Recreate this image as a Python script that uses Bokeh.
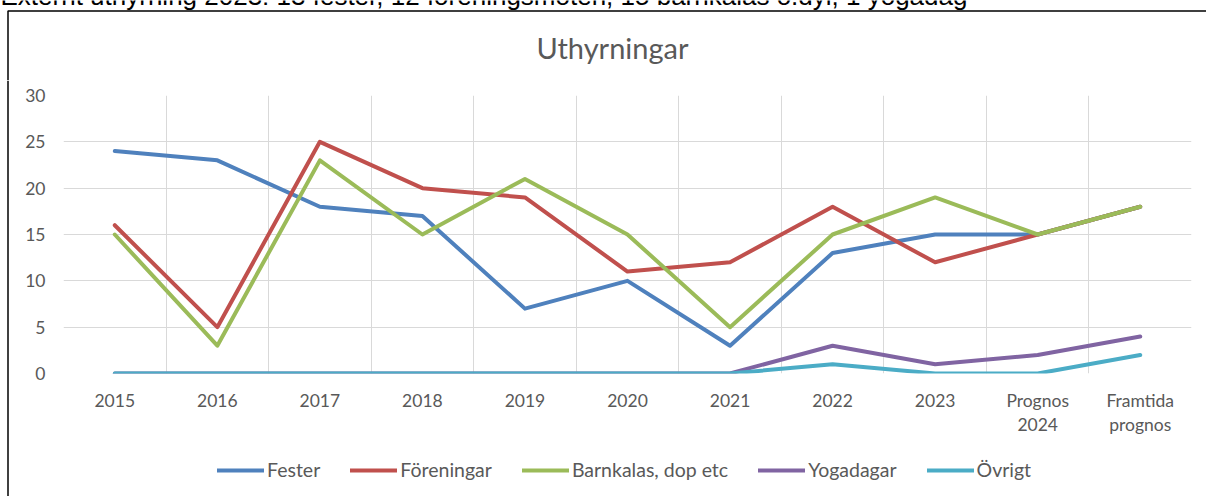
from bokeh.plotting import figure
from bokeh.models import Legend, LegendItem, Label, BoxAnnotation, Span, FixedTicker, Range1d
from bokeh.layouts import column, row
from bokeh.embed import file_html
from bokeh.resources import INLINE

categories = ["2015", "2016", "2017", "2018", "2019", "2020", "2021", "2022", "2023",
              "Prognos\n2024", "Framtida\nprognos"]
fester = [24, 23, 18, 17, 7, 10, 3, 13, 15, 15, 18]
foreningar = [16, 5, 25, 20, 19, 11, 12, 18, 12, 15, 18]
barnkalas = [15, 3, 23, 15, 21, 15, 5, 15, 19, 15, 18]
yogadagar = [0, 0, 0, 0, 0, 0, 0, 3, 1, 2, 4]
ovrigt = [0, 0, 0, 0, 0, 0, 0, 1, 0, 0, 2]
series_names = ["Fester", "Föreningar", "Barnkalas, dop etc", "Yogadagar", "Övrigt"]
y_ticks = [0, 5, 10, 15, 20, 25, 30]
title_text = "Uthyrningar"
note_text = "Externt uthyrning 2023: 13 fester, 12 föreningsmöten, 15 barnkalas o.dyl, 1 yogadag"

colors = ["#4F81BD", "#C0504D", "#9BBB59", "#8064A2", "#4BACC6"]
series = [fester, foreningar, barnkalas, yogadagar, ovrigt]
TXT = "#595959"
FONT = "Lato"
LW = 4


def blank(w, h):
    f = figure(width=w, height=h, output_backend="svg", toolbar_location=None,
               x_range=Range1d(0, w), y_range=Range1d(h, 0),
               x_axis_location=None, y_axis_location=None,
               min_border=0, min_border_left=0, min_border_right=0,
               min_border_top=0, min_border_bottom=0)
    f.outline_line_color = None
    f.background_fill_color = "white"
    f.border_fill_color = "white"
    f.grid.visible = False
    return f


# ---- top strip: note, title, frame border ----
top = blank(1206, 80)
top.add_layout(BoxAnnotation(left=7.5, right=5000, top=10.5, bottom=5000,
                             fill_alpha=0, line_color="black", line_alpha=1, line_width=1.5))
top.add_layout(Label(x=0, y=-5, text=note_text, text_align="left", text_baseline="alphabetic",
                     text_font="Liberation Sans", text_font_size="26px", text_color="black"))
top.add_layout(Label(x=612, y=47, text=title_text, text_align="center", text_baseline="middle",
                     text_font=FONT, text_font_size="29px", text_color=TXT))

# ---- left strip: border line ----
side = blank(20, 416)
side.add_layout(Span(location=7.5, dimension="height", line_color="black", line_width=1.5))

# ---- chart ----
n = len(categories)
p = figure(width=1186, height=370, output_backend="svg", toolbar_location=None,
           x_range=Range1d(0, n), y_range=Range1d(0, 30),
           min_border_left=43, min_border_right=15, min_border_top=15, min_border_bottom=77)
p.outline_line_color = None
p.background_fill_color = "white"
p.border_fill_color = "white"

xs = [i + 0.5 for i in range(n)]
p.xaxis.ticker = FixedTicker(ticks=xs)
p.xaxis.major_label_overrides = {x: c for x, c in zip(xs, categories)}
p.yaxis.ticker = FixedTicker(ticks=y_ticks)
for ax in (p.xaxis[0], p.yaxis[0]):
    ax.axis_line_color = None
    ax.major_tick_line_color = None
    ax.minor_tick_line_color = None
    ax.major_tick_out = 0
    ax.major_tick_in = 0
    ax.minor_tick_out = 0
    ax.minor_tick_in = 0
    ax.major_label_text_font = FONT
    ax.major_label_text_font_size = "17.5px"
    ax.major_label_text_color = TXT
p.xaxis.major_label_text_line_height = 1.17
p.xaxis.major_label_standoff = 16
p.yaxis.major_label_standoff = 18

p.xgrid.ticker = FixedTicker(ticks=list(range(n + 1)))
p.ygrid.ticker = FixedTicker(ticks=y_ticks)
for g in (p.xgrid[0], p.ygrid[0]):
    g.grid_line_color = "#D9D9D9"
    g.grid_line_width = 1

for vals, col in zip(series, colors):
    p.line(x=xs, y=vals, line_color=col, line_width=LW, line_cap="round", line_join="round")

# ---- legend strip (legend proxies share the series data but are hidden) ----
leg = blank(1186, 46)
leg_renderers = []
for vals, col in zip(series, colors):
    r = leg.line(x=xs, y=vals, line_color=col, line_width=LW, line_cap="round")
    r.visible = False
    leg_renderers.append(r)
legend = Legend(items=[LegendItem(label=nm, renderers=[r]) for nm, r in zip(series_names, leg_renderers)],
                orientation="horizontal", location=(154, 15),
                border_line_color=None, background_fill_alpha=0,
                label_text_font=FONT, label_text_font_size="19.5px", label_text_color=TXT,
                glyph_width=47, glyph_height=20, label_standoff=3, spacing=30,
                padding=0, margin=0, click_policy="none")
leg.add_layout(legend)

layout = column(top, row(side, column(p, leg, spacing=0), spacing=0), spacing=0)

open("out.html", "w").write(file_html(layout, INLINE))
